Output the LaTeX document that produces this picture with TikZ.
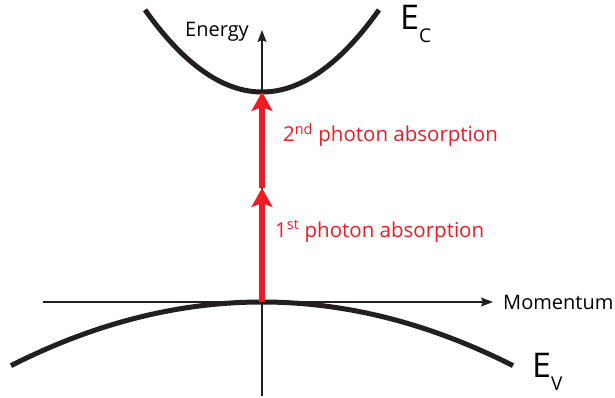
\documentclass[tikz,border=0pt]{standalone}
\usepackage{fontspec}
\setmainfont{Open Sans}
\usetikzlibrary{arrows.meta}
\definecolor{bandblack}{RGB}{35,31,32}
\definecolor{photonred}{RGB}{237,28,36}

\begin{document}
\begin{tikzpicture}[x=1pt,y=-1pt,>=Stealth,
  band/.style={line width=5pt,bandblack},
  axis/.style={line width=1.1pt,bandblack,-{Stealth[length=12pt,width=9pt,inset=2pt]}},
  photon/.style={line width=6pt,photonred,-{Stealth[length=19pt,width=21pt,inset=4pt]}},
  every node/.style={inner sep=0pt}]
\useasboundingbox (0,0) rectangle (615,398);
% axes
\coordinate (xs) at (43,302);
\coordinate (xe) at (493,302);
\coordinate (ys) at (262,396);
\coordinate (ye) at (262,30);
\draw[axis] (xs) -- (xe);
\draw[axis] (ys) -- (ye);
\node[anchor=base east,font=\fontsize{20}{22}\selectfont] (energy) at (249,37) {Energy};
\node[anchor=west,font=\fontsize{20}{22}\selectfont] (momentum) at (503,302) {Momentum};
% bands
\draw[band] plot[domain=-1.17:1.17,samples=60] ({262+100*\x},{92-60*\x*\x});
\draw[band] plot[domain=-2.51:2.51,samples=80] ({262+100*\x},{302+10.1*\x*\x});
\node[anchor=base west,font=\fontsize{34}{36}\selectfont] (ec) at (400,30) {E\raisebox{-13pt}{\fontsize{19}{19}\selectfont C}};
\node[anchor=base west,font=\fontsize{34}{36}\selectfont] (ev) at (532,377) {E\raisebox{-13pt}{\fontsize{19}{19}\selectfont V}};
% two-photon transitions
\coordinate (vtop) at (262,302);
\coordinate (mid) at (262,188);
\coordinate (cbot) at (262,92);
\draw[photon] (vtop) -- (mid);
\draw[photon] (mid) -- (cbot);
\node[anchor=base west,photonred,font=\fontsize{20.5}{22}\selectfont] (second) at (283,142) {2\textsuperscript{nd} photon absorption};
\node[anchor=base west,photonred,font=\fontsize{20.5}{22}\selectfont] (first) at (275,237) {1\textsuperscript{st} photon absorption};
\end{tikzpicture}
\end{document}
